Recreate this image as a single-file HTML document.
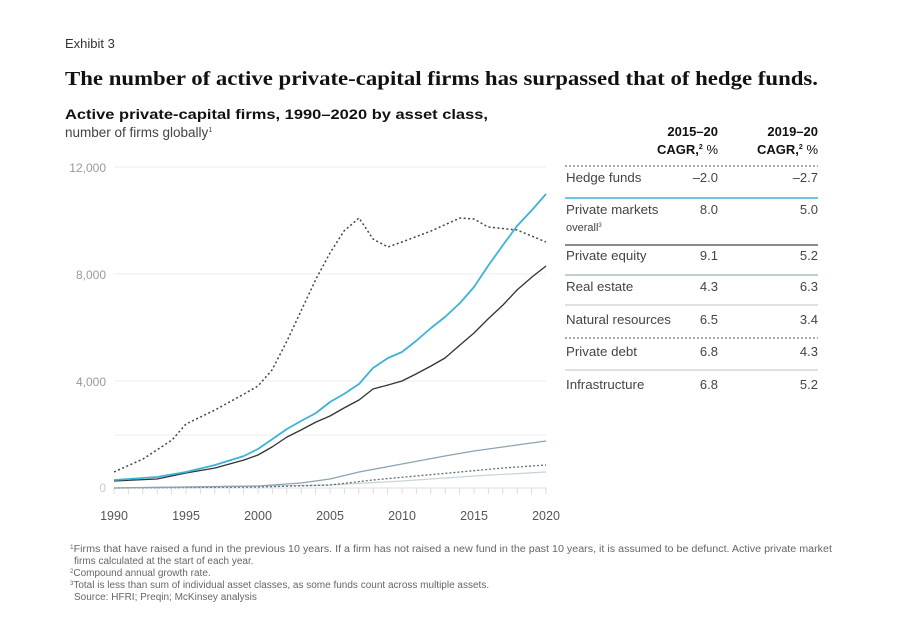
<!DOCTYPE html>
<html><head><meta charset="utf-8"><style>
body{margin:0;background:#fff;}
svg{display:block;}
text{font-family:"Liberation Sans",sans-serif;}
</style></head><body>
<svg width="909" height="618" viewBox="0 0 909 618" xmlns="http://www.w3.org/2000/svg">
<rect width="909" height="618" fill="#fff"/>
<text x="65" y="48" font-size="13" fill="#333">Exhibit 3</text>
<text x="65" y="85" font-size="20" font-weight="bold" fill="#111" textLength="753" lengthAdjust="spacingAndGlyphs" style="font-family:'Liberation Serif',serif">The number of active private-capital firms has surpassed that of hedge funds.</text>
<text x="65" y="119" font-size="14" font-weight="bold" fill="#111" textLength="423" lengthAdjust="spacingAndGlyphs">Active private-capital firms, 1990–2020 by asset class,</text>
<text x="65" y="137" font-size="13.5" fill="#444">number of firms globally<tspan font-size="7" dy="-5">1</tspan></text>
<g font-size="12" fill="#999">
<text x="106" y="172" text-anchor="end">12,000</text>
<text x="106" y="279" text-anchor="end">8,000</text>
<text x="106" y="386" text-anchor="end">4,000</text>
<text x="106" y="492" text-anchor="end" fill="#ccc">0</text>
</g>
<g stroke="#eee" stroke-width="1">
<line x1="114" y1="167" x2="546" y2="167"/>
<line x1="114" y1="274" x2="546" y2="274"/>
<line x1="114" y1="381" x2="546" y2="381"/>
<line x1="114" y1="435" x2="546" y2="435"/>
</g>
<line x1="114" y1="488" x2="546" y2="488" stroke="#ddd"/>
<g stroke="#ddd">
<path d="M114 488v6M128.4 488v6M142.8 488v6M157.2 488v6M171.6 488v6M186 488v6M200.4 488v6M214.8 488v6M229.2 488v6M243.6 488v6M258 488v6M272.4 488v6M286.8 488v6M301.2 488v6M315.6 488v6M330 488v6M344.4 488v6M358.8 488v6M373.2 488v6M387.6 488v6M402 488v6M416.4 488v6M430.8 488v6M445.2 488v6M459.6 488v6M474 488v6M488.4 488v6M502.8 488v6M517.2 488v6M531.6 488v6M546 488v6"/>
</g>
<g font-size="12.5" fill="#555" text-anchor="middle">
<text x="114" y="520">1990</text><text x="186" y="520">1995</text><text x="258" y="520">2000</text><text x="330" y="520">2005</text><text x="402" y="520">2010</text><text x="474" y="520">2015</text><text x="546" y="520">2020</text>
</g>
<g fill="none" stroke-linejoin="round">
<polyline stroke="#c8d3da" stroke-width="1.2" points="114,488 330,485 402,481 474,476 546,472"/>
<polyline stroke="#5f6e78" stroke-width="1.3" stroke-dasharray="2,2" points="114,488 258,487 330,485 373,480 416,476 460,472 503,468 546,465"/>
<polyline stroke="#8aa4b3" stroke-width="1.3" points="114,488 258,486 301,483 330,479 359,472 402,464 445,456 474,451 517,445 546,441"/>
<polyline stroke="#333" stroke-width="1.3" points="114,481 157,479 186,473 215,468 244,460 258,455 272,447 287,437 301,430 316,422 330,416 344,408 359,400 373,389 388,385 402,381 416,374 431,366 445,358 460,345 474,333 488,319 503,305 517,290 532,277 546,266"/>
<polyline stroke="#3bb3d8" stroke-width="1.8" points="114,480 157,477 186,472 215,465 244,456 258,449 287,429 301,421 316,413 330,402 344,394 359,384 373,368 388,358 402,352 416,341 431,328 445,317 460,303 474,287 488,266 503,245 517,226 532,210 546,194"/>
<polyline stroke="#444" stroke-width="1.5" stroke-dasharray="2,2.5" points="114,472 143,459 172,440 186,424 215,410 244,394 258,386 272,370 287,341 301,311 316,279 330,253 344,231 359,218 373,239 388,247 402,242 431,231 460,218 474,219 488,227 517,230 546,242"/>
</g>
<g font-size="13" font-weight="bold" fill="#111" text-anchor="end">
<text x="718" y="136">2015–20</text><text x="718" y="154">CAGR,<tspan font-size="7" dy="-5">2</tspan><tspan dy="5" font-weight="normal"> %</tspan></text>
<text x="818" y="136">2019–20</text><text x="818" y="154">CAGR,<tspan font-size="7" dy="-5">2</tspan><tspan dy="5" font-weight="normal"> %</tspan></text>
</g>
<g stroke-width="1.2">
<line x1="565" y1="166" x2="818" y2="166" stroke="#777" stroke-dasharray="2,2"/>
<line x1="565" y1="198" x2="818" y2="198" stroke="#3bb3d8" stroke-width="1.5"/>
<line x1="565" y1="245" x2="818" y2="245" stroke="#444"/>
<line x1="565" y1="275" x2="818" y2="275" stroke="#9ab0bd"/>
<line x1="565" y1="305" x2="818" y2="305" stroke="#c6d0d6"/>
<line x1="565" y1="338" x2="818" y2="338" stroke="#777" stroke-dasharray="2,2"/>
<line x1="565" y1="370" x2="818" y2="370" stroke="#c6d0d6"/>
</g>
<g font-size="13.3" fill="#444">
<text x="566" y="182">Hedge funds</text>
<text x="566" y="214">Private markets</text>
<text x="566" y="231" font-size="11">overall<tspan font-size="6" dy="-4">3</tspan></text>
<text x="566" y="260">Private equity</text>
<text x="566" y="291">Real estate</text>
<text x="566" y="324">Natural resources</text>
<text x="566" y="356">Private debt</text>
<text x="566" y="389">Infrastructure</text>
</g>
<g font-size="13" fill="#444" text-anchor="end">
<text x="718" y="182">–2.0</text><text x="818" y="182">–2.7</text>
<text x="718" y="214">8.0</text><text x="818" y="214">5.0</text>
<text x="718" y="260">9.1</text><text x="818" y="260">5.2</text>
<text x="718" y="291">4.3</text><text x="818" y="291">6.3</text>
<text x="718" y="324">6.5</text><text x="818" y="324">3.4</text>
<text x="718" y="356">6.8</text><text x="818" y="356">4.3</text>
<text x="718" y="389">6.8</text><text x="818" y="389">5.2</text>
</g>
<g font-size="10" fill="#666">
<text x="70" y="552" textLength="762" lengthAdjust="spacingAndGlyphs"><tspan font-size="6" dy="-3">1</tspan><tspan dy="3">Firms that have raised a fund in the previous 10 years. If a firm has not raised a new fund in the past 10 years, it is assumed to be defunct. Active private market</tspan></text>
<text x="74" y="564">firms calculated at the start of each year.</text>
<text x="70" y="576"><tspan font-size="6" dy="-3">2</tspan><tspan dy="3">Compound annual growth rate.</tspan></text>
<text x="70" y="588"><tspan font-size="6" dy="-3">3</tspan><tspan dy="3">Total is less than sum of individual asset classes, as some funds count across multiple assets.</tspan></text>
<text x="74" y="600">Source: HFRI; Preqin; McKinsey analysis</text>
</g>
</svg>
</body></html>
